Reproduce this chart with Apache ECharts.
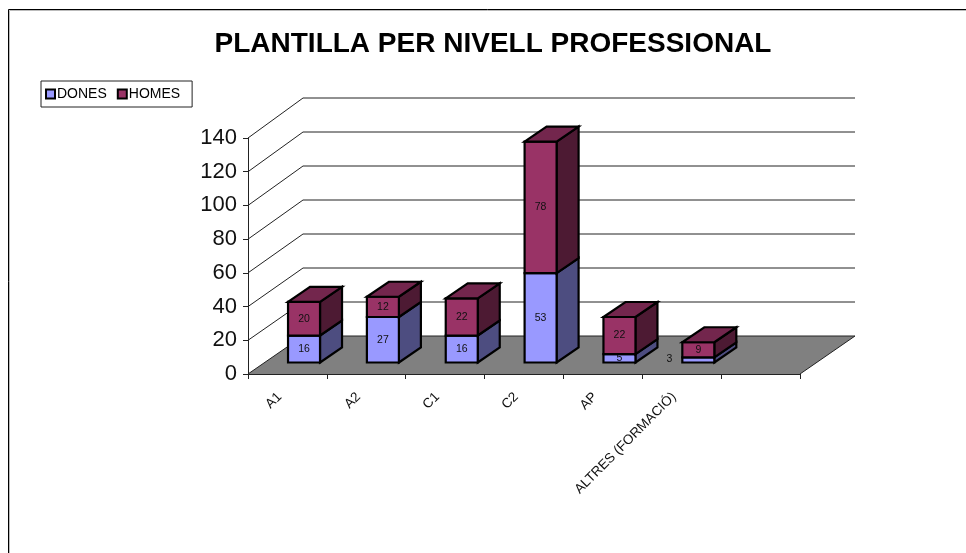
<!DOCTYPE html>
<html><head><meta charset="utf-8">
<style>html,body{margin:0;padding:0;background:#fff}#c{width:966px;height:553px}</style>
<script src="https://cdn.jsdelivr.net/npm/echarts@6/dist/echarts.min.js"></script>
</head><body><div id="c"></div>
<script>
const categories = ['A1','A2','C1','C2','AP','ALTRES (FORMACIÓ)',''];
const dones = [16,27,16,53,5,3];
const homes = [20,12,22,78,22,9];
const yTicks = [0,20,40,60,80,100,120,140];
const DX = 55, DY = 38, BX = 16.6, BY = 11.5, BW = 32, BDX = 22, BDY = 15, BACK_SCALE = 238/236;
const colors = {
  dones:{front:'#9999FF',side:'#4D4D80',top:'#737399'},
  homes:{front:'#993366',side:'#4D1A33',top:'#73264D'}
};
const chart = echarts.init(document.getElementById('c'),null,{renderer:'canvas'});
const edge = {stroke:'#000',lineWidth:2.2,lineJoin:'miter'};
function wallItem(params, api){
  const v = api.value(0);
  const p = api.coord([0,v]);
  const x0 = params.coordSys.x, w = params.coordSys.width;
  const floorY = params.coordSys.y + params.coordSys.height;
  const y = p[1];
  const by = floorY - DY - (floorY - y)*BACK_SCALE;
  const children = [];
  if(v===0){
    children.push({type:'polygon',shape:{points:[[x0,y],[x0+DX,by],[x0+w+DX,by],[x0+w,y]]},style:{fill:'#808080',stroke:null}});
    children.push({type:'polyline',shape:{points:[[x0,y],[x0+DX,by],[x0+w+DX,by],[x0+w,y]]},style:{fill:null,stroke:'#222',lineWidth:1}});
  } else {
    children.push({type:'polyline',shape:{points:[[x0,y],[x0+DX,by],[x0+w+DX,by]]},style:{fill:null,stroke:'#222',lineWidth:1}});
  }
  return {type:'group',children};
}
function barItem(key, isTop){
  return function(params, api){
    const cat = api.value(0), base = api.value(1), val = api.value(2);
    const c = api.coord([cat, base]), t = api.coord([cat, base+val]);
    const cx = c[0]+BX, l = cx-BW/2, r = cx+BW/2;
    const yb = c[1]-BY, yt = t[1]-BY;
    const col = colors[key];
    const children = [
      {type:'polygon',shape:{points:[[r,yb],[r+BDX,yb-BDY],[r+BDX,yt-BDY],[r,yt]]},style:Object.assign({fill:col.side},edge)},
      {type:'polygon',shape:{points:[[l,yb],[r,yb],[r,yt],[l,yt]]},style:Object.assign({fill:col.front},edge)}
    ];
    if(isTop){
      children.push({type:'polygon',shape:{points:[[l,yt],[r,yt],[r+BDX,yt-BDY],[l+BDX,yt-BDY]]},style:Object.assign({fill:col.top},edge)});
    }
    const small = val<=3;
    children.push({type:'text',style:{text:String(val),x:small?cx-29:cx,y:small?yb-3:(yb+yt)/2,
      align:'center',verticalAlign:'middle',fill:'#111',font:'10.5px "Liberation Sans"'},z2:10});
    return {type:'group',children};
  };
}
chart.setOption({
  animation:false,
  backgroundColor:'#fff',
  textStyle:{fontFamily:'"Liberation Sans"'},
  title:{text:'PLANTILLA PER NIVELL PROFESSIONAL',left:488,top:25,textAlign:'center',
    textStyle:{fontFamily:'"Liberation Sans"',fontSize:28,fontWeight:'bold',color:'#000'}},
  legend:{left:41,top:81,orient:'horizontal',padding:[6,12,6,4],itemGap:10,itemWidth:9,itemHeight:9,
    borderColor:'#222',borderWidth:1,backgroundColor:'#fff',
    data:['DONES','HOMES'],icon:'rect',
    itemStyle:{borderColor:'#000',borderWidth:2},
    textStyle:{fontFamily:'"Liberation Sans"',fontSize:14,color:'#000',padding:[0,0,0,-3]}},
  grid:{left:248,top:138,width:552,height:236,containLabel:false},
  xAxis:{type:'category',data:categories,boundaryGap:true,
    axisLine:{lineStyle:{color:'#222',width:1}},
    axisTick:{show:true,length:5,lineStyle:{color:'#222'}},
    axisLabel:{interval:0,rotate:45,fontSize:13.5,color:'#111',margin:13,fontFamily:'"Liberation Sans"',padding:[0,11,0,0]},
    splitLine:{show:false}},
  yAxis:{type:'value',min:0,max:140,interval:20,
    axisLine:{show:true,lineStyle:{color:'#222',width:1}},
    axisTick:{show:true,length:5,lineStyle:{color:'#222'}},
    axisLabel:{fontSize:22,color:'#111',margin:11,fontFamily:'"Liberation Sans"'},
    splitLine:{show:false}},
  graphic:[
    {type:'polyline',shape:{points:[[9.5,553],[9.5,10.5],[966,10.5]]},style:{fill:null,stroke:'#bbb',lineWidth:1}},
    {type:'polyline',shape:{points:[[8.5,553],[8.5,9.5],[966,9.5]]},style:{fill:null,stroke:'#000',lineWidth:1}}
  ],
  series:[
    {type:'custom',name:'walls',silent:true,z:1,clip:false,renderItem:wallItem,data:yTicks.map(v=>[v]),encode:{y:0}},
    {type:'custom',name:'DONES',z:2,clip:false,renderItem:barItem('dones',false),itemStyle:{color:colors.dones.front},
      data:dones.map((v,i)=>[i,0,v]),encode:{x:0,y:[1,2]}},
    {type:'custom',name:'HOMES',z:3,clip:false,renderItem:barItem('homes',true),itemStyle:{color:colors.homes.front},
      data:homes.map((v,i)=>[i,dones[i],v]),encode:{x:0,y:[1,2]}}
  ]
});
</script></body></html>
